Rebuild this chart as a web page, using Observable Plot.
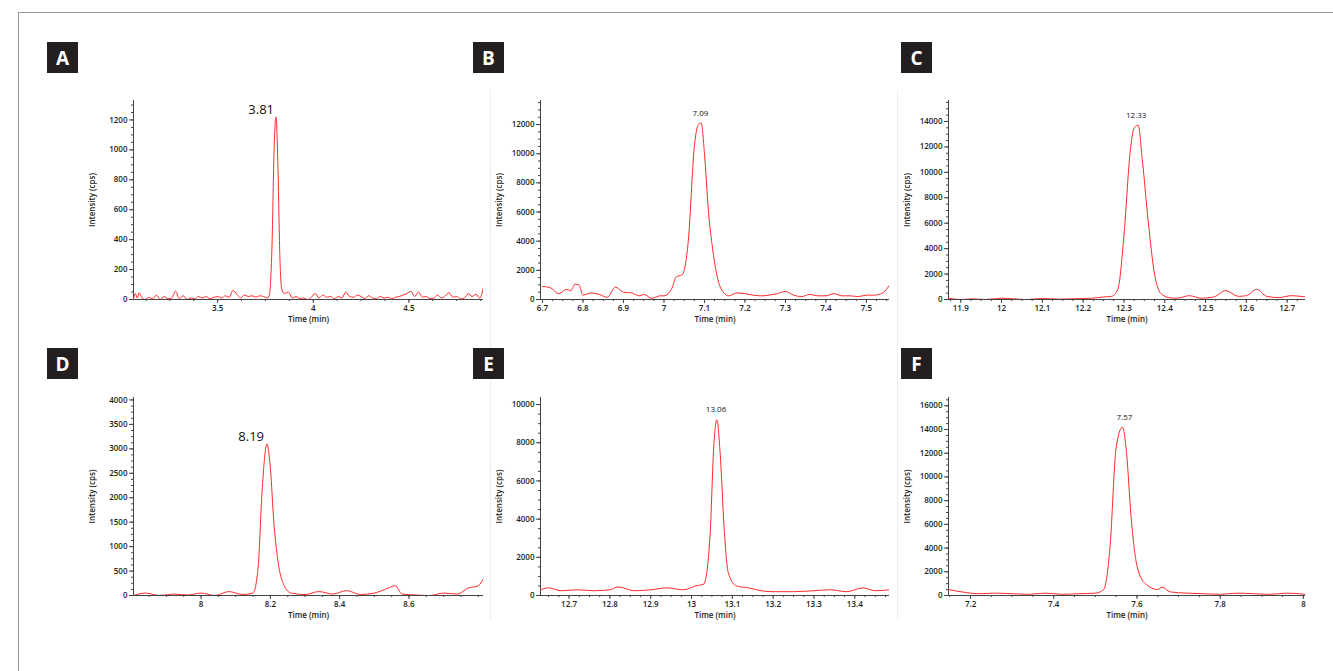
<!DOCTYPE html>
<html><head><meta charset="utf-8">
<script src="https://cdn.jsdelivr.net/npm/d3@7"></script>
<script src="https://cdn.jsdelivr.net/npm/@observablehq/plot@0.6"></script>
<style>
body{margin:0;background:#fff;width:1333px;height:671px;position:relative;overflow:hidden;font-family:"Open Sans",sans-serif}
#frame{position:absolute;left:18px;top:12px;width:1330px;height:680px;border:1px solid #999}
.lab{position:absolute;width:31px;height:31px;background:#231f20;color:#fff;font:bold 19px "Open Sans",sans-serif;display:flex;align-items:center;justify-content:center;z-index:2}
.p{position:absolute;z-index:1}
.sep{position:absolute;width:1px;background:#eee;z-index:0}
</style></head><body>
<div id="frame"></div>
<script>
const letters = ["A","B","C","D","E","F"];
const peakLabels = ["3.81","7.09","12.33","8.19","13.06","7.57"];
const peakTimes = [3.81,7.09,12.33,8.19,13.06,7.57];
const peakValues = [1220,12100,13700,3100,9200,14200];
const xDomains = [[3.06,4.89],[6.695,7.557],[11.87,12.745],[7.805,8.815],[12.63,13.485],[7.147,8.005]];
const yDomains = [[0,1330],[0,13650],[0,15650],[0,4050],[0,10370],[0,16700]];
const xTicks = [[3.5,4,4.5],[6.7,6.8,6.9,7,7.1,7.2,7.3,7.4,7.5],[11.9,12,12.1,12.2,12.3,12.4,12.5,12.6,12.7],[8,8.2,8.4,8.6],[12.7,12.8,12.9,13,13.1,13.2,13.3,13.4],[7.2,7.4,7.6,7.8,8]];
const yTicks = [[0,200,400,600,800,1000,1200],[0,2000,4000,6000,8000,10000,12000],[0,2000,4000,6000,8000,10000,12000,14000],[0,500,1000,1500,2000,2500,3000,3500,4000],[0,2000,4000,6000,8000,10000],[0,2000,4000,6000,8000,10000,12000,14000,16000]];
const seriesA = [[3.06,5],[3.07,40],[3.08,10],[3.09,45],[3.10,20],[3.12,0],[3.14,15],[3.16,5],[3.18,30],[3.20,0],[3.22,20],[3.24,5],[3.26,10],[3.28,55],[3.30,5],[3.32,25],[3.34,0],[3.36,10],[3.38,5],[3.40,20],[3.42,10],[3.44,20],[3.46,5],[3.48,15],[3.50,20],[3.52,10],[3.54,25],[3.56,15],[3.58,60],[3.60,35],[3.62,10],[3.64,30],[3.66,20],[3.68,25],[3.70,15],[3.72,25],[3.74,20],[3.76,10],[3.77,30],[3.785,400],[3.795,1000],[3.805,1220],[3.815,900],[3.825,300],[3.835,70],[3.85,40],[3.87,50],[3.89,10],[3.91,20],[3.93,5],[3.95,10],[3.97,0],[3.99,15],[4.01,40],[4.03,10],[4.05,30],[4.07,15],[4.09,20],[4.11,5],[4.13,20],[4.15,10],[4.17,50],[4.19,20],[4.21,15],[4.23,30],[4.25,20],[4.27,5],[4.29,25],[4.31,10],[4.33,5],[4.35,20],[4.37,10],[4.39,15],[4.41,5],[4.43,15],[4.45,20],[4.47,30],[4.49,40],[4.51,55],[4.53,20],[4.55,50],[4.57,15],[4.59,20],[4.61,5],[4.63,10],[4.65,30],[4.67,10],[4.69,25],[4.71,45],[4.73,15],[4.75,20],[4.77,5],[4.79,10],[4.81,40],[4.83,20],[4.85,35],[4.87,10],[4.89,85]];
const seriesB = [[6.70,900],[6.72,800],[6.74,400],[6.76,700],[6.77,600],[6.78,1050],[6.79,1000],[6.80,300],[6.82,450],[6.84,350],[6.86,150],[6.88,850],[6.90,500],[6.92,450],[6.94,250],[6.95,350],[6.97,80],[6.99,250],[7.00,250],[7.02,800],[7.03,1550],[7.045,1700],[7.06,4000],[7.075,10500],[7.085,12000],[7.092,12100],[7.10,10000],[7.11,6000],[7.12,3500],[7.14,800],[7.16,250],[7.18,450],[7.20,400],[7.22,300],[7.24,250],[7.26,300],[7.28,400],[7.30,550],[7.32,300],[7.34,200],[7.36,350],[7.38,250],[7.40,250],[7.42,400],[7.44,250],[7.46,250],[7.48,200],[7.50,300],[7.52,300],[7.54,450],[7.556,950]];
const seriesC = [[11.87,100],[11.90,0],[11.93,50],[11.96,0],[12.00,100],[12.03,50],[12.06,0],[12.10,80],[12.14,30],[12.18,60],[12.22,100],[12.25,200],[12.27,250],[12.285,800],[12.30,5000],[12.315,11500],[12.325,13500],[12.335,13700],[12.345,11000],[12.36,6000],[12.375,2000],[12.39,500],[12.41,150],[12.43,100],[12.46,300],[12.49,100],[12.52,200],[12.55,700],[12.58,250],[12.60,300],[12.625,800],[12.65,250],[12.68,150],[12.71,300],[12.745,200]];
const seriesD = [[7.805,0],[7.84,50],[7.88,0],[7.92,30],[7.96,10],[8.0,50],[8.04,0],[8.08,80],[8.12,20],[8.15,50],[8.165,600],[8.175,2000],[8.19,3100],[8.20,2600],[8.21,1500],[8.22,800],[8.24,200],[8.26,50],[8.30,20],[8.34,80],[8.38,30],[8.42,100],[8.46,20],[8.50,50],[8.54,150],[8.56,200],[8.58,30],[8.62,10],[8.66,0],[8.70,50],[8.74,30],[8.77,150],[8.80,200],[8.815,350]];
const seriesE = [[12.63,300],[12.65,400],[12.68,250],[12.72,300],[12.76,250],[12.80,300],[12.82,450],[12.86,250],[12.90,300],[12.94,400],[12.98,300],[13.01,500],[13.03,600],[13.045,3000],[13.055,8000],[13.062,9200],[13.07,7500],[13.08,3500],[13.09,1200],[13.11,500],[13.14,400],[13.17,250],[13.20,200],[13.25,200],[13.30,250],[13.34,300],[13.38,200],[13.42,400],[13.45,250],[13.485,300]];
const seriesF = [[7.147,500],[7.18,300],[7.22,150],[7.26,200],[7.30,150],[7.34,100],[7.38,200],[7.42,100],[7.46,150],[7.50,200],[7.52,500],[7.535,4000],[7.55,12500],[7.565,14200],[7.575,12000],[7.585,7000],[7.60,2500],[7.62,1000],[7.65,500],[7.66,700],[7.68,300],[7.72,200],[7.76,150],[7.80,100],[7.84,200],[7.88,150],[7.92,100],[7.96,200],[8.005,100]];
const series = [seriesA,seriesB,seriesC,seriesD,seriesE,seriesF];

const plotLeft=[133,540,948], plotRight=[483,889,1305], plotTop=[100,397], plotBottom=[299,595];
const labLeft=[47,473,901], labTop=[42,348];
const mL=55,mR=14,mT=10,mB=32;

series.forEach((s,i)=>{
  const c=i%3,r=Math.floor(i/3);
  const w=plotRight[c]-plotLeft[c], h=plotBottom[r]-plotTop[r];
  const lab=document.createElement("div");lab.className="lab";lab.textContent=letters[i];
  lab.style.left=labLeft[c]+"px";lab.style.top=labTop[r]+"px";document.body.appendChild(lab);
  const [y0,y1]=yDomains[i], step=yTicks[i][1]-yTicks[i][0];
  const minorY=d3.range(0,y1,step/4);
  const xs=xTicks[i], xstep=xs.length>1?(xs[1]-xs[0]):0.5;
  const minorX=d3.range(Math.ceil(xDomains[i][0]/(xstep/4))*(xstep/4),xDomains[i][1],xstep/4);
  const big = (i===0||i===3);
  const chart=Plot.plot({
    width:w+mL+mR,height:h+mT+mB,marginLeft:mL,marginRight:mR,marginTop:mT,marginBottom:mB,
    style:{fontFamily:"Open Sans, sans-serif",fontSize:"8px",color:"#222",background:"transparent"},
    x:{domain:xDomains[i]},
    y:{domain:yDomains[i]},
    marks:[
      Plot.axisY(minorY,{tickSize:2,text:null,label:null,stroke:"#444"}),
      Plot.axisY(yTicks[i],{tickSize:4,tickPadding:2,label:"Intensity (cps)",labelAnchor:"center",labelArrow:"none",labelOffset:44,stroke:"#444",fontSize:8,fontWeight:600,tickFormat:d3.format("d")}),
      Plot.axisX(minorX,{tickSize:2,text:null,label:null,stroke:"#444"}),
      Plot.axisX(xs,{tickSize:4,tickPadding:2,label:"Time (min)",labelAnchor:"center",labelArrow:"none",labelOffset:22,stroke:"#444",fontSize:8,fontWeight:600,tickFormat:d=>String(+d.toFixed(2))}),
      Plot.ruleX([xDomains[i][0]],{stroke:"#444"}),
      Plot.ruleY([0],{stroke:"#444"}),
      Plot.line(s,{x:d=>d[0],y:d=>d[1],stroke:"#ff2a2a",strokeWidth:1,curve:"monotone-x",clip:true}),
      Plot.text([0],{x:()=>peakTimes[i]+(big?-(xDomains[i][1]-xDomains[i][0])*0.045:0),y:()=>peakValues[i],text:()=>peakLabels[i],dy:big?-7:-10,fontSize:big?13:8,fill:"#111"})
    ]
  });
  const d=document.createElement("div");d.className="p";
  d.style.left=(plotLeft[c]-mL)+"px";d.style.top=(plotTop[r]-mT)+"px";
  d.appendChild(chart);document.body.appendChild(d);
});
[490,897].forEach(x=>{const s=document.createElement("div");s.className="sep";s.style.left=x+"px";s.style.top="90px";s.style.height="530px";document.body.appendChild(s);});
</script>
</body></html>
